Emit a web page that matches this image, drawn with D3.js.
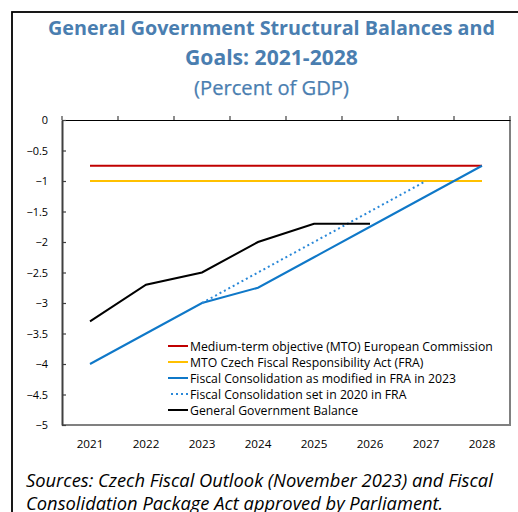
<!DOCTYPE html>
<html><head><meta charset="utf-8">
<script src="https://cdn.jsdelivr.net/npm/d3@7"></script>
<style>
html,body{margin:0;padding:0;background:#fff;overflow:hidden;}
svg{display:block;font-family:"Open Sans","Noto Sans",sans-serif;}
</style></head>
<body>
<svg id="c" width="518" height="512"></svg>
<script>
const years = ["2021","2022","2023","2024","2025","2026","2027","2028"];
const yTicks = [0,-0.5,-1,-1.5,-2,-2.5,-3,-3.5,-4,-4.5,-5];
const mtoEC = [{year:"2021",v:-0.75},{year:"2028",v:-0.75}];
const mtoFRA = [{year:"2021",v:-1},{year:"2028",v:-1}];
const fra2023 = [{year:"2021",v:-4},{year:"2022",v:-3.5},{year:"2023",v:-3},{year:"2024",v:-2.75},{year:"2025",v:-2.25},{year:"2026",v:-1.75},{year:"2027",v:-1.25},{year:"2028",v:-0.75}];
const fra2020 = [{year:"2023",v:-3},{year:"2024",v:-2.5},{year:"2025",v:-2},{year:"2026",v:-1.5},{year:"2027",v:-1}];
const ggBalance = [{year:"2021",v:-3.3},{year:"2022",v:-2.7},{year:"2023",v:-2.5},{year:"2024",v:-2},{year:"2025",v:-1.7},{year:"2026",v:-1.7}];
const legendLabels = ["Medium-term objective (MTO) European Commission","MTO Czech Fiscal Responsibility Act (FRA)","Fiscal Consolidation as modified in FRA in 2023","Fiscal Consolidation set in 2020 in FRA","General Government Balance"];
const titleLines = ["General Government Structural Balances and","Goals: 2021-2028"];
const subtitle = "(Percent of GDP)";
const sourceLines = ["Sources: Czech Fiscal Outlook (November 2023) and Fiscal","Consolidation Package Act approved by Parliament."];

const svg = d3.select("#c");
const L=62,R=510,T=120,B=425;
const x = d3.scaleBand().domain(years).range([L,R]).paddingInner(0).paddingOuter(0);
const y = d3.scaleLinear().domain([-5,0]).range([B,T]);
const cx = d => x(d.year)+x.bandwidth()/2;

function fit(sel, w){
  const n = sel.node();
  let fs = parseFloat(sel.attr("font-size"));
  const cur = n.getComputedTextLength();
  const nf = (fs*w/cur).toFixed(2);
  sel.attr("font-size", nf);
  return nf;
}

// outer frame
svg.append("rect").attr("x",12).attr("y",12).attr("width",540).attr("height",540)
  .attr("fill","none").attr("stroke","#000").attr("stroke-width",1.8);

// titles
const tc = "#4a7eb0";
titleLines.forEach((t,i)=>{
  const s = svg.append("text").attr("x",271.5).attr("y",[35,65][i]).attr("text-anchor","middle")
    .attr("font-weight","bold").attr("font-size",20).attr("fill",tc).text(t);
  fit(s,[447,173][i]);
});
const st = svg.append("text").attr("x",271.5).attr("y",94.5).attr("text-anchor","middle")
  .attr("font-size",18).attr("fill",tc).attr("stroke",tc).attr("stroke-width",0.25).text(subtitle);
fit(st,155);

// plot frame
svg.append("line").attr("x1",R).attr("x2",R).attr("y1",T).attr("y2",B).attr("stroke","#808080").attr("stroke-width",2);
svg.append("line").attr("x1",L).attr("x2",R+1).attr("y1",B).attr("y2",B).attr("stroke","#808080").attr("stroke-width",2);

// top axis (category axis crossing at 0)
const xTop = svg.append("g").attr("transform",`translate(0,${T})`)
  .call(d3.axisTop(x).tickValues([]).tickSizeOuter(0));
xTop.select(".domain").attr("stroke","#000").attr("stroke-width",1.2);
svg.append("g").selectAll("line").data(years.concat(["end"])).join("line")
  .attr("x1",(d,i)=>L+i*x.bandwidth()).attr("x2",(d,i)=>L+i*x.bandwidth())
  .attr("y1",T-4).attr("y2",T).attr("stroke","#404040").attr("stroke-width",1.2);

// x labels at bottom
const xl = svg.append("g").attr("transform",`translate(0,${B})`)
  .call(d3.axisBottom(x).tickSize(0).tickPadding(15));
xl.select(".domain").remove();
xl.selectAll("text").attr("font-size",12).attr("fill","#000").attr("font-family","'Open Sans','Noto Sans',sans-serif");
const xfs = fit(xl.select("text"),26.7);
xl.selectAll("text").attr("font-size",xfs);

// y axis
const ya = svg.append("g").attr("transform",`translate(${L},0)`)
  .call(d3.axisLeft(y).tickValues(yTicks).tickFormat(d=>d3.format("")(d)).tickSizeInner(-4).tickSizeOuter(0).tickPadding(14));
ya.select(".domain").attr("stroke","#404040").attr("stroke-width",2);
ya.selectAll(".tick line").attr("stroke","#404040").attr("stroke-width",1.2);
ya.selectAll("text").attr("font-size",12).attr("fill","#000").attr("font-family","'Open Sans','Noto Sans',sans-serif");
const yfs = fit(ya.selectAll("text").filter(d=>d===-0.5),21.6);
ya.selectAll("text").attr("font-size",yfs);

// lines
const line = d3.line().x(cx).y(d=>y(d.v));
const series = [
  {data:mtoEC, color:"#c00000", dash:null},
  {data:mtoFRA, color:"#ffc000", dash:null},
  {data:fra2023, color:"#0f78c8", dash:null},
  {data:fra2020, color:"#2a88d8", dash:"2,3"},
  {data:ggBalance, color:"#000000", dash:null}
];
series.forEach(s=>{
  svg.append("path").attr("d",line(s.data)).attr("fill","none")
    .attr("stroke",s.color).attr("stroke-width",2).attr("stroke-dasharray",s.dash);
});

// legend
const lg = svg.append("g");
let lfs = 13;
legendLabels.forEach((t,i)=>{
  const yy = 346 + i*16;
  const s = series[i];
  lg.append("line").attr("x1",s.dash?171:168).attr("x2",188).attr("y1",yy).attr("y2",yy)
    .attr("stroke",s.color).attr("stroke-width",2).attr("stroke-dasharray",s.dash);
  const tx = lg.append("text").attr("x",190).attr("y",yy+4.5).attr("font-size",lfs).attr("fill","#000").text(t);
  if(i===0) lfs = fit(tx,303);
});

// sources
let sfs = 17;
sourceLines.forEach((t,i)=>{
  const s = svg.append("text").attr("x",26).attr("y",[486.5,510][i]).attr("font-style","italic")
    .attr("font-size",sfs).attr("fill","#000").text(t);
  if(i===0) sfs = fit(s,467);
});
</script>
</body></html>
